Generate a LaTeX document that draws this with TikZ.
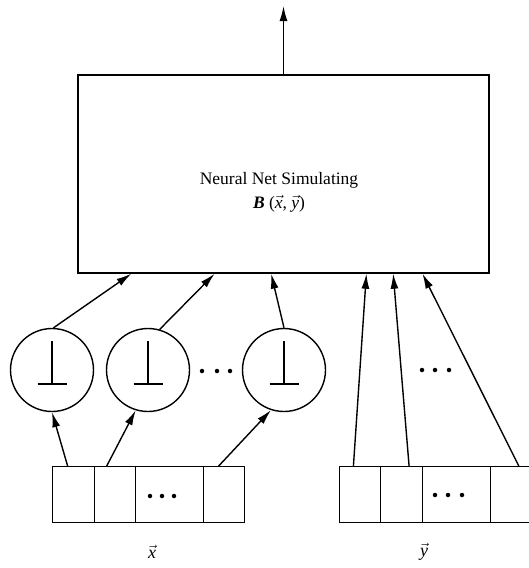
\documentclass[tikz,border=0pt]{standalone}
\usepackage{fontspec}
\setmainfont{Liberation Serif}
\usetikzlibrary{arrows.meta,calc}
\newcommand\vv[1]{$\vec{\mbox{\textit{#1}}}$}
\begin{document}
\begin{tikzpicture}[x=1pt,y=-1pt,line width=1.4pt,
  arr/.style={-{Latex[length=15pt,width=8pt]}},
  cell/.style={draw,rectangle,minimum height=56pt,inner sep=0pt,anchor=north west},
  unit/.style={draw,circle,minimum size=83pt,inner sep=0pt},
  dot/.style={fill,circle,inner sep=0pt,minimum size=4.5pt},
  lbl/.style={font=\fontsize{18}{22}\selectfont}]
\useasboundingbox (0,0) rectangle (529,568);
% main box
\node[draw,rectangle,minimum width=411pt,minimum height=198pt,inner sep=0pt] (main) at (283.5,174) {};
\node[align=center,font=\fontsize{17.5}{24}\selectfont,inner sep=0pt] (txt) at (279,192)
  {Neural Net Simulating\\\textbf{\textit{B}} (\vv{x}, \vv{y})};
\coordinate (out) at (283.5,6);
\draw[arr] (main.north) -- (out);
% units
\node[unit] (c1) at (52,370) {};
\node[unit] (c2) at (148,370) {};
\node[unit] (c3) at (284,370) {};
\foreach \c in {c1,c2,c3}{
  \draw ($(\c)+(0,-29)$) -- ($(\c)+(0,14)$);
  \draw ($(\c)+(-14.5,14)$) -- ($(\c)+(14.5,14)$);
}
% ellipses
\foreach \xx in {202,217,230}{\node[dot] at (\xx,371) {};}
\foreach \xx in {422,435,449}{\node[dot] at (\xx,370) {};}
% x cells
\node[cell,minimum width=42pt] (x1) at (52,466) {};
\node[cell,minimum width=41pt] (x2) at (94,466) {};
\node[cell,minimum width=68pt] (x3) at (135,466) {};
\node[cell,minimum width=41pt] (x4) at (203,466) {};
\foreach \xx in {150,162,174}{\node[dot] at (\xx,496) {};}
% y cells
\node[cell,minimum width=41pt] (y1) at (339,466) {};
\node[cell,minimum width=42pt] (y2) at (380,466) {};
\node[cell,minimum width=68pt] (y3) at (422,466) {};
\node[cell,minimum width=41pt] (y4) at (490,466) {};
\foreach \xx in {435,448,462}{\node[dot] at (\xx,495) {};}
% bottom targets on main box
\foreach \n/\f in {b1/0.131,b2/0.333,b3/0.470,b4/0.701,b5/0.766,b6/0.837}{
  \coordinate (\n) at ($(main.south west)!\f!(main.south east)$);}
% arrows units -> main
\draw[arr] (c1.88) -- (b1);
\draw[arr] (c2.74) -- (b2);
\draw[arr] (c3.90) -- (b3);
% arrows x cells -> units
\draw[arr] ($(x1.north west)!0.36!(x1.north east)$) -- (c1.270);
\draw[arr] ($(x2.north west)!0.30!(x2.north east)$) -- (c2.253);
\draw[arr] ($(x4.north west)!0.37!(x4.north east)$) -- (c3.252);
% arrows y cells -> main
\draw[arr] ($(y1.north west)!0.34!(y1.north east)$) -- (b4);
\draw[arr] ($(y2.north west)!0.67!(y2.north east)$) -- (b5);
\draw[arr] ($(y4.north west)!0.68!(y4.north east)$) -- (b6);
% labels
\node[lbl] (lx) at (152,552) {\vv{x}};
\node[lbl] (ly) at (424,552) {\vv{y}};
\end{tikzpicture}
\end{document}
